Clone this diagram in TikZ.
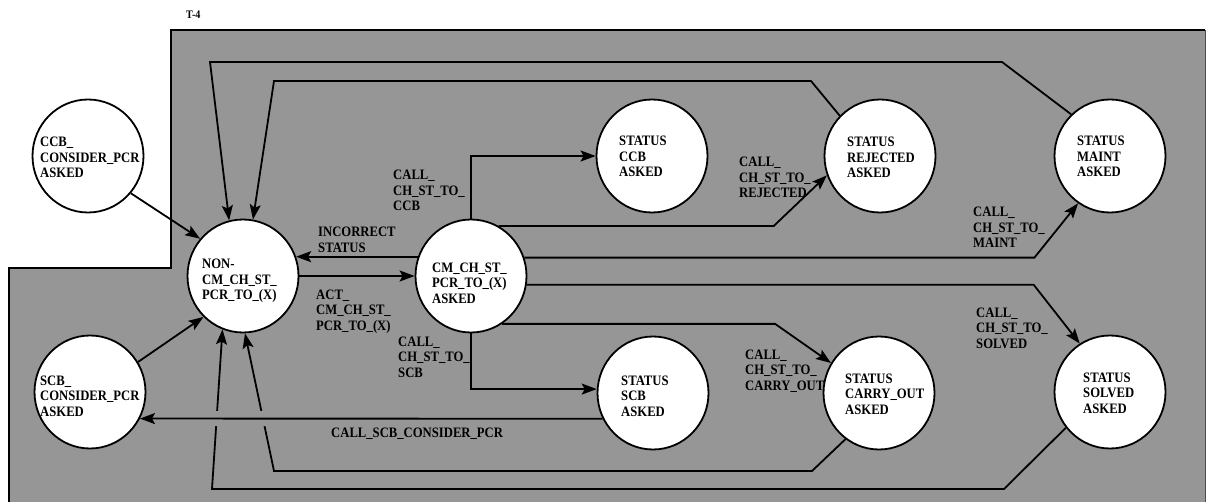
\documentclass[tikz,border=0pt]{standalone}
\usepackage{fontspec}
\setmainfont{Liberation Serif}[FakeStretch=0.88]
\usetikzlibrary{arrows.meta,shapes.geometric}
\definecolor{panel}{RGB}{150,150,150}
\tikzset{
    state/.style={ellipse, draw, line width=1.8pt, fill=white, minimum width=111pt, minimum height=113pt, inner sep=0pt},
    txt/.style={anchor=base west, inner sep=0pt, align=left, font=\fontsize{14.4}{15.5}\selectfont\bfseries},
    conn/.style={line width=1.8pt, -{Stealth[length=15pt,width=11pt,inset=3pt]}}
}
\begin{document}
\begin{tikzpicture}[x=1pt, y=-1pt]
    \useasboundingbox (0,0) rectangle (1206,502);
    \fill[panel] (171,30) -- (1205,30) -- (1205,502) -- (9,502) -- (9,268) -- (171,268) -- cycle;
    \draw[line width=2pt] (1205,30) -- (171,30) -- (171,268) -- (9,268) -- (9,502);
    \draw[gray!60!black, line width=0.8pt] (1205,30) -- (1205,502);
    \node[txt, font=\fontsize{11.5}{13}\selectfont\bfseries] (title) at (186,19) {T-4};

    \foreach \n/\x/\y in {ccbc/88/156, scbc/90/392, non/243/276, cm/471/276, statccb/652/156,
                          statscb/653/393, rej/880/156, carry/879/393, maint/1110/156, solv/1110/392}
        \node[state] (\n) at (\x,\y) {};

    \draw[conn] (maint.133) -- (1002,62) -- (210,62) -- (non.104);
    \draw[conn] (rej.135) -- (811,81) -- (274,81) -- (non.80);
    \draw[conn] (ccbc.-41) -- (non.139);
    \draw[conn] (scbc.32) -- (non.226);
    \draw[conn] (cm.160) -- (non.20);
    \draw[conn] (non.east) -- (cm.west);
    \draw[conn] (cm.north) |- (statccb.west);
    \draw[conn] (cm.south) |- (statscb.176);
    \draw[conn] (cm.61) -- ++(275,0) -- (rej.200);
    \draw[conn] (cm.19) -- ++(510,0) -- (maint.236);
    \draw[conn] (cm.-9) -- ++(507,0) -- (solv.122);
    \draw[conn] (cm.-57) -- ++(273,0) -- (carry.148);
    \draw[conn] (carry.234) -- (812,471) -- (274,471) -- (non.-88);
    \draw[conn] (solv.219) -- (1004,489) -- (212,489) -- (non.249);
    \draw[conn, preaction={draw=panel, line width=15pt, -, shorten <=20pt, shorten >=25pt}] (statscb.207) -- (scbc.-28);

    \node[txt] (ccbc-t) at (40,178) {CCB\_\\CONSIDER\_PCR\\ASKED};
    \node[txt] (scbc-t) at (40,416) {SCB\_\\CONSIDER\_PCR\\ASKED};
    \node[txt] (non-t) at (202,300) {NON-\\CM\_CH\_ST\_\\PCR\_TO\_(X)};
    \node[txt] (cm-t) at (432,303) {CM\_CH\_ST\_\\PCR\_TO\_(X)\\ASKED};
    \node[txt] (statccb-t) at (619,177) {STATUS\\CCB\\ASKED};
    \node[txt] (statscb-t) at (621,416) {STATUS\\SCB\\ASKED};
    \node[txt] (rej-t) at (847,178) {STATUS\\REJECTED\\ASKED};
    \node[txt] (carry-t) at (845,414) {STATUS\\CARRY\_OUT\\ASKED};
    \node[txt] (maint-t) at (1077,177) {STATUS\\MAINT\\ASKED};
    \node[txt] (solv-t) at (1083,413) {STATUS\\SOLVED\\ASKED};

    \node[txt] (lccb) at (393,211) {CALL\_\\CH\_ST\_TO\_\\CCB};
    \node[txt] (lincor) at (318,252.5) {INCORRECT\\STATUS};
    \node[txt] (lact) at (316,330) {ACT\_\\CM\_CH\_ST\_\\PCR\_TO\_(X)};
    \node[txt] (lscb) at (398,377) {CALL\_\\CH\_ST\_TO\_\\SCB};
    \node[txt] (lrej) at (739,198) {CALL\_\\CH\_ST\_TO\_\\REJECTED};
    \node[txt] (lmaint) at (973,248) {CALL\_\\CH\_ST\_TO\_\\MAINT};
    \node[txt] (lcarry) at (745,390) {CALL\_\\CH\_ST\_TO\_\\CARRY\_OUT};
    \node[txt] (lsolv) at (976,348) {CALL\_\\CH\_ST\_TO\_\\SOLVED};
    \node[txt] (lscbc) at (331,437) {CALL\_SCB\_CONSIDER\_PCR};
\end{tikzpicture}
\end{document}
